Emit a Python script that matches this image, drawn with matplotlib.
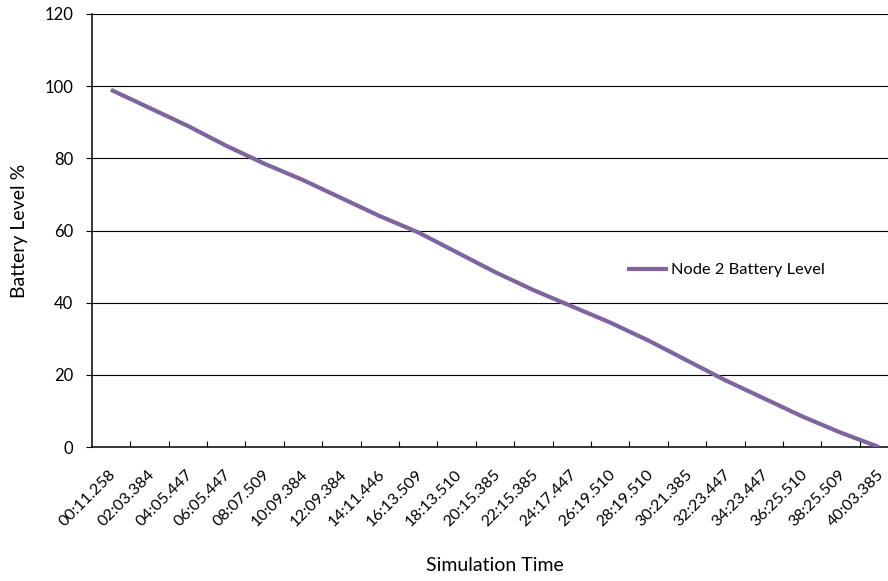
import matplotlib
matplotlib.use("Agg")
import matplotlib.pyplot as plt
import matplotlib.transforms as mtransforms
import numpy as np

# Simulation timestamps (mm:ss.ms) and remaining battery of node 2
times = ["00:11.258", "02:03.384", "04:05.447", "06:05.447", "08:07.509",
         "10:09.384", "12:09.384", "14:11.446", "16:13.509", "18:13.510",
         "20:15.385", "22:15.385", "24:17.447", "26:19.510", "28:19.510",
         "30:21.385", "32:23.447", "34:23.447", "36:25.510", "38:25.509",
         "40:03.385"]
battery = [99, 94, 89, 83.5, 78.5, 74, 69, 64, 59.5, 54, 48.5,
           43.5, 39, 34.5, 29.5, 24, 18.5, 13.5, 8.5, 4, 0]
y_ticks = [0, 20, 40, 60, 80, 100, 120]

plt.rcParams["font.family"] = ["Lato", "DejaVu Sans"]

W, H, DPI = 888, 581, 100
fig = plt.figure(figsize=(W / DPI, H / DPI), dpi=DPI)

# plot area in pixels: left edge, top/bottom, category width
left_px, top_px, bottom_px, cat_w = 91.7, 14.0, 447.0, 38.4
n = len(times)
ax = fig.add_axes([left_px / W, (H - bottom_px) / H,
                   n * cat_w / W, (bottom_px - top_px) / H])

x = np.arange(n)
line, = ax.plot(x, battery, color="#8064A2", lw=3.0,
                solid_capstyle="butt", solid_joinstyle="round",
                label="Node 2 Battery Level", zorder=3)

ax.set_xlim(-0.5, n - 0.5)
ax.set_ylim(0, 120)
ax.set_yticks(y_ticks)
ax.grid(axis="y", color="black", lw=0.8)
ax.set_axisbelow(True)

for s in ("top", "right"):
    ax.spines[s].set_visible(False)
for s in ("left", "bottom"):
    ax.spines[s].set_color("black")
    ax.spines[s].set_linewidth(1.1)

# categories: labels at centres, tick marks on the boundaries
ax.set_xticks(x)
ax.set_xticklabels(times)
ax.set_xticks(np.arange(0.5, n - 1, 1.0), minor=True)
ax.tick_params(axis="x", which="major", length=0, pad=15.0, labelsize=11.6)
ax.tick_params(axis="x", which="minor", direction="in", length=4.3,
               width=0.8, color="black")
offset = mtransforms.ScaledTranslation(-2 / DPI, 0, fig.dpi_scale_trans)
for lab in ax.get_xticklabels():
    lab.set_rotation(45)
    lab.set_ha("right")
    lab.set_va("top")
    lab.set_rotation_mode("anchor")
    lab.set_transform(lab.get_transform() + offset)

ax.tick_params(axis="y", direction="out", length=4.3, width=0.8,
               color="black", pad=9.0, labelsize=12)

ax.set_xlabel("Simulation Time", fontsize=14)
ax.xaxis.set_label_coords(0.5, (bottom_px - 557) / (bottom_px - top_px))
ax.set_ylabel("Battery Level %", fontsize=14)
ax.yaxis.set_label_coords((28 - left_px) / (n * cat_w), 0.5)

fig.legend(handles=[line], loc="center left",
           bbox_to_anchor=(627 / W, 1 - 270 / H), frameon=False,
           fontsize=11.8, handlelength=2.5, handletextpad=0.2,
           borderpad=0, borderaxespad=0)

fig.savefig("out.png", dpi=DPI, facecolor="white")
